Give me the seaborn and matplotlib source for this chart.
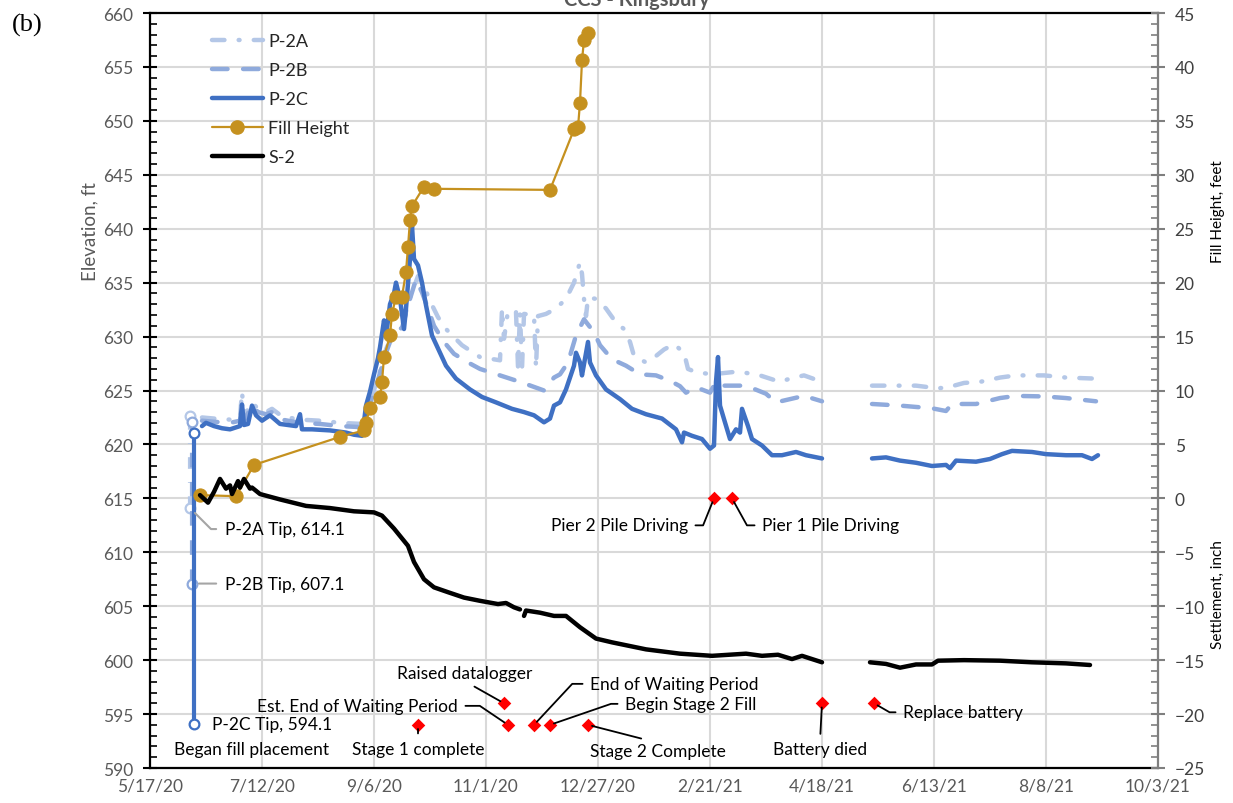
import pandas as pd
import numpy as np
import matplotlib
matplotlib.use("Agg")
import matplotlib.pyplot as plt
import matplotlib.dates as mdates
from matplotlib.lines import Line2D
from matplotlib.ticker import MultipleLocator, FixedLocator, FuncFormatter
import seaborn as sns

# ---------------------------------------------------------------- data
# Piezometer P-2C, elevation (ft); None = logger outage
p2c_dates = [
    "2020-06-12", "2020-06-14", "2020-06-18", "2020-06-22", "2020-06-26",
    "2020-07-01", "2020-07-02", "2020-07-03", "2020-07-05", "2020-07-07", "2020-07-09",
    "2020-07-12", "2020-07-16", "2020-07-21", "2020-07-29", "2020-07-31",
    "2020-08-01", "2020-08-06", "2020-08-15", "2020-08-23", "2020-08-27", "2020-08-31",
    "2020-09-01", "2020-09-02", "2020-09-04", "2020-09-06", "2020-09-08", "2020-09-09",
    "2020-09-11", "2020-09-12", "2020-09-14", "2020-09-16", "2020-09-17", "2020-09-19",
    "2020-09-21", "2020-09-22", "2020-09-24", "2020-09-25", "2020-09-26", "2020-09-28",
    "2020-09-30",
    "2020-10-02", "2020-10-05", "2020-10-09", "2020-10-12", "2020-10-17", "2020-10-24",
    "2020-10-30",
    "2020-11-06", "2020-11-14", "2020-11-20", "2020-11-25", "2020-11-30",
    "2020-12-03", "2020-12-05", "2020-12-08", "2020-12-11", "2020-12-15", "2020-12-16",
    "2020-12-18", "2020-12-19", "2020-12-22", "2020-12-23", "2020-12-26", "2020-12-31",
    "2021-01-07", "2021-01-13", "2021-01-20", "2021-01-28",
    "2021-02-04", "2021-02-07", "2021-02-08", "2021-02-12", "2021-02-17", "2021-02-21",
    "2021-02-23", "2021-02-24", "2021-02-25", "2021-02-26", "2021-02-28",
    "2021-03-03", "2021-03-06", "2021-03-08", "2021-03-09", "2021-03-12", "2021-03-14",
    "2021-03-19", "2021-03-24", "2021-03-29",
    "2021-04-05", "2021-04-10", "2021-04-18",
    "2021-05-01", "2021-05-13", "2021-05-20", "2021-05-27",
    "2021-06-04", "2021-06-12", "2021-06-19", "2021-06-21", "2021-06-24",
    "2021-07-04", "2021-07-11", "2021-07-17", "2021-07-22",
    "2021-08-01", "2021-08-08", "2021-08-18", "2021-08-26", "2021-08-31",
    "2021-09-03",
]
p2c_elev = [
    621.7, 622.0, 621.7, 621.5, 621.4,
    621.7, 623.7, 621.8, 621.9, 623.6, 622.7,
    622.2, 622.7, 621.9, 621.7, 622.8,
    621.4, 621.4, 621.3, 621.1, 620.9, 620.8,
    622.1, 623.6, 624.9, 626.5, 628.0, 629.0,
    631.5, 630.0, 633.0, 634.0, 635.0, 633.5,
    630.7, 632.6, 637.2, 640.3, 637.2, 636.6,
    635.0,
    632.9, 630.1, 628.5, 627.3, 626.1, 625.1,
    624.4,
    623.9, 623.3, 623.0, 622.7, 622.05,
    622.4, 623.6, 623.9, 625.1, 627.3, 628.5,
    627.6, 626.4, 629.5, 627.6, 626.4, 625.1,
    624.2, 623.3, 622.8, 622.4,
    621.4, 620.2, 621.1, 620.8, 620.5, 619.6,
    619.9, 625.8, 628.1, 623.6, 622.35,
    620.5, 621.4, 621.1, 623.3, 621.7, 620.5,
    619.9, 619.0, 619.0,
    619.3, 619.0, 618.7,
    None, 618.7, 618.8, 618.5,
    618.3, 618.0, 618.1, 617.8, 618.5,
    618.4, 618.65, 619.1, 619.4,
    619.3, 619.1, 619.0, 619.0, 618.65,
    619.0,
]

# Piezometer P-2B, elevation (ft)
p2b_dates = [
    "2020-06-12", "2020-06-18", "2020-06-26",
    "2020-07-01", "2020-07-02", "2020-07-03", "2020-07-07", "2020-07-10", "2020-07-14",
    "2020-07-17", "2020-07-22", "2020-07-31",
    "2020-08-10", "2020-08-20", "2020-08-31",
    "2020-09-02", "2020-09-04", "2020-09-08", "2020-09-12", "2020-09-16", "2020-09-20",
    "2020-09-24", "2020-09-27", "2020-09-30",
    "2020-10-03", "2020-10-06", "2020-10-11", "2020-10-16", "2020-10-23", "2020-10-29",
    "2020-11-08", "2020-11-18", "2020-11-30",
    "2020-12-05", "2020-12-08", "2020-12-12", "2020-12-16", "2020-12-20", "2020-12-25",
    "2020-12-28",
    "2021-01-03", "2021-01-10", "2021-01-17", "2021-01-25",
    "2021-02-01", "2021-02-06", "2021-02-09", "2021-02-14", "2021-02-21", "2021-02-24",
    "2021-02-27",
    "2021-03-08", "2021-03-13", "2021-03-21", "2021-03-26",
    "2021-04-02", "2021-04-09", "2021-04-18",
    "2021-05-01", "2021-05-13", "2021-05-27",
    "2021-06-12", "2021-06-19", "2021-06-22",
    "2021-07-04", "2021-07-16", "2021-07-24",
    "2021-08-07", "2021-08-18",
    "2021-09-02",
]
p2b_elev = [
    622.2, 622.1, 622.0,
    622.2, 623.6, 622.2, 623.6, 623.0, 622.8,
    623.0, 622.3, 622.0,
    621.9, 621.7, 621.6,
    622.5, 623.8, 626.0, 628.5, 630.5, 630.8,
    633.5, 635.3, 634.1,
    632.6, 631.0, 629.5, 628.4, 627.6, 627.0,
    626.4, 625.8, 625.0,
    626.2, 626.5, 627.6, 630.1, 631.6, 630.4,
    629.2,
    627.9, 627.3, 626.5, 626.4,
    625.9, 625.4, 624.8, 625.3, 624.8, 625.8,
    625.45,
    625.45, 625.3, 624.7, 623.9,
    624.2, 624.5, 624.0,
    None, 623.75, 623.6,
    623.35, 623.1, 623.75,
    623.75, 624.3, 624.5,
    624.45, 624.3,
    624.0,
]

# Piezometer P-2A, elevation (ft)
p2a_dates = [
    "2020-06-12", "2020-06-18", "2020-06-26",
    "2020-07-01", "2020-07-02", "2020-07-03", "2020-07-07", "2020-07-10", "2020-07-14",
    "2020-07-17", "2020-07-22", "2020-07-31",
    "2020-08-10", "2020-08-20", "2020-08-31",
    "2020-09-02", "2020-09-04", "2020-09-08", "2020-09-12", "2020-09-16", "2020-09-20",
    "2020-09-24", "2020-09-28",
    "2020-10-01", "2020-10-04", "2020-10-08", "2020-10-12", "2020-10-20", "2020-10-29",
    "2020-11-08", "2020-11-09", "2020-11-10", "2020-11-12", "2020-11-16", "2020-11-17",
    "2020-11-18", "2020-11-19", "2020-11-20", "2020-11-25", "2020-11-26", "2020-11-27",
    "2020-12-01", "2020-12-06", "2020-12-11", "2020-12-15", "2020-12-18", "2020-12-19",
    "2020-12-20", "2020-12-21", "2020-12-22", "2020-12-26", "2020-12-31",
    "2021-01-05", "2021-01-09", "2021-01-12", "2021-01-14", "2021-01-20", "2021-01-25",
    "2021-01-29",
    "2021-02-03", "2021-02-08", "2021-02-10", "2021-02-14", "2021-02-22",
    "2021-03-04", "2021-03-09", "2021-03-18", "2021-03-28",
    "2021-04-02", "2021-04-09", "2021-04-18",
    "2021-05-01", "2021-05-13", "2021-05-27",
    "2021-06-04", "2021-06-15", "2021-06-20", "2021-06-28",
    "2021-07-06", "2021-07-16", "2021-07-24",
    "2021-08-07", "2021-08-18",
    "2021-09-02",
]
p2a_elev = [
    622.5, 622.4, 622.3,
    622.5, 624.9, 622.6, 623.9, 623.3, 623.0,
    623.3, 622.6, 622.3,
    622.2, 622.0, 621.9,
    622.7, 623.9, 626.2, 628.8, 630.6, 631.0,
    633.6, 635.6,
    634.7, 633.3, 631.8, 630.7, 629.2, 628.1,
    627.8, 632.6, 629.8, 632.4, 632.3, 627.2,
    632.2, 627.0, 632.1, 632.0, 627.1, 631.9,
    632.1, 632.6, 633.5, 635.0, 636.9, 635.8,
    633.5, 631.9, 633.6, 633.5, 632.6,
    631.3, 630.7, 629.5, 628.2, 627.6, 628.2,
    628.8,
    629.3, 628.5, 627.0, 626.7, 626.5,
    626.7, 626.7, 626.4, 625.8,
    626.1, 626.4, 625.8,
    None, 625.45, 625.45,
    625.45, 625.2, 625.3, 625.7,
    625.8, 626.2, 626.4,
    626.4, 626.2,
    626.1,
]

# Settlement plate S-2 (inch)
s2_dates = [
    "2020-06-11", "2020-06-15", "2020-06-18", "2020-06-21", "2020-06-24", "2020-06-26",
    "2020-06-27", "2020-06-30",
    "2020-07-01", "2020-07-03", "2020-07-06", "2020-07-07", "2020-07-11", "2020-07-21",
    "2020-08-03", "2020-08-15", "2020-08-27",
    "2020-09-06", "2020-09-10", "2020-09-16", "2020-09-23", "2020-09-26",
    "2020-10-01", "2020-10-06", "2020-10-13", "2020-10-21", "2020-10-29",
    "2020-11-07", "2020-11-11", "2020-11-15", "2020-11-18", "2020-11-19", "2020-11-20",
    "2020-11-21", "2020-11-28",
    "2020-12-05", "2020-12-11", "2020-12-18", "2020-12-26",
    "2021-01-03", "2021-01-20",
    "2021-02-06", "2021-02-22",
    "2021-03-11", "2021-03-19", "2021-03-27",
    "2021-04-03", "2021-04-08", "2021-04-13", "2021-04-18",
    "2021-05-01", "2021-05-12", "2021-05-20", "2021-05-27",
    "2021-06-04", "2021-06-12", "2021-06-15", "2021-06-28",
    "2021-07-16",
    "2021-08-01", "2021-08-18", "2021-08-30",
]
s2_settle = [
    0.3, -0.4, 0.6, 1.8, 0.9, 1.2,
    0.4, 1.6,
    1.0, 1.8, 0.9, 1.0, 0.4, -0.1,
    -0.7, -0.9, -1.2,
    -1.3, -1.6, -2.8, -4.4, -5.9,
    -7.5, -8.25, -8.7, -9.2, -9.5,
    -9.8, -9.7, -10.1, -10.3, None, -10.9,
    -10.4, -10.6,
    -10.9, -10.9, -11.95, -13.0,
    -13.35, -14.0,
    -14.4, -14.6,
    -14.4, -14.6, -14.5,
    -14.9, -14.6, -14.9, -15.2,
    None, -15.2, -15.35, -15.7,
    -15.4, -15.4, -15.05, -15.0,
    -15.05,
    -15.2, -15.3, -15.45,
]

# Fill height (ft)
fill_dates = [
    "2020-06-11", "2020-06-29", "2020-07-08", "2020-08-20",
    "2020-09-01", "2020-09-02", "2020-09-04", "2020-09-09", "2020-09-10", "2020-09-11",
    "2020-09-14", "2020-09-15", "2020-09-17", "2020-09-20", "2020-09-22", "2020-09-23",
    "2020-09-24", "2020-09-25", "2020-10-01", "2020-10-06",
    "2020-12-03", "2020-12-15", "2020-12-17", "2020-12-18", "2020-12-19", "2020-12-20",
    "2020-12-22",
]
fill_height = [
    0.3, 0.2, 3.1, 5.7,
    6.3, 7.0, 8.4, 9.4, 10.8, 13.1,
    15.1, 17.1, 18.7, 18.7, 21.0, 23.3,
    25.8, 27.1, 28.9, 28.7,
    28.6, 34.2, 34.4, 36.7, 40.6, 42.5,
    43.1,
]

# Piezometer installation: ground-surface reading and tip elevation (ft)
tip_names = ["P-2A", "P-2B", "P-2C"]
tip_dates = ["2020-06-06", "2020-06-07", "2020-06-08"]
tip_top_elev = [622.6, 622.1, 621.1]
tip_elev = [614.1, 607.1, 594.1]

# Site events
event_labels = [
    "Stage 1 complete", "Raised datalogger", "Est. End of Waiting Period",
    "End of Waiting Period", "Begin Stage 2 Fill", "Stage 2 Complete",
    "Pier 2 Pile Driving", "Pier 1 Pile Driving", "Battery died", "Replace battery",
]
event_dates = [
    "2020-09-28", "2020-11-10", "2020-11-12", "2020-11-25", "2020-12-03",
    "2020-12-22", "2021-02-23", "2021-03-04", "2021-04-18", "2021-05-14",
]
event_elev = [594, 596, 594, 594, 594, 594, 615, 615, 596, 596]

# ---------------------------------------------------------------- style
sns.set_theme(style="white")
plt.rcParams["font.family"] = ["Lato", "DejaVu Sans"]

C_A, C_B, C_C = "#B4C7E7", "#8FAADC", "#3F70C3"
C_FILL, C_EVT = "#C5911F", "#FF0000"
GRID, TXT_GRAY = "#D9D9D9", "#595959"
DASH_A = (0, (2.8, 3.2, 0.2, 3.2))
DASH_B = (0, (3.5, 3.5))
FS = 12.5

W, H = 1233, 804
fig = plt.figure(figsize=(W / 100, H / 100), dpi=100)
ax = fig.add_axes([150 / W, 35 / H, 1008 / W, 755 / H])
ax2 = ax.twinx()


def frame(dates, values):
    df = pd.DataFrame({"date": pd.to_datetime(dates),
                       "value": pd.Series(values, dtype=float)})
    df["segment"] = df["value"].isna().cumsum()
    return df.dropna(subset=["value"])


def draw(axis, df, **kw):
    sns.lineplot(data=df, x="date", y="value", units="segment", estimator=None,
                 ax=axis, legend=False, **kw)


# piezometers (left axis)
draw(ax, frame(p2a_dates, p2a_elev), color=C_A, lw=3.2, linestyle=DASH_A,
     dash_capstyle="round", zorder=3)
draw(ax, frame(p2b_dates, p2b_elev), color=C_B, lw=3.2, linestyle=DASH_B,
     dash_capstyle="round", zorder=3)
draw(ax, frame(p2c_dates, p2c_elev), color=C_C, lw=3.2, solid_joinstyle="round",
     zorder=4)

# installation lines from ground reading down to the tip
tip_styles = {"P-2A": (C_A, DASH_A), "P-2B": (C_B, DASH_B), "P-2C": (C_C, "-")}
for name, d, top, tip in zip(tip_names, tip_dates, tip_top_elev, tip_elev):
    col, ls = tip_styles[name]
    tdf = pd.DataFrame({"date": pd.to_datetime([d, d]), "value": [top, tip],
                        "segment": [0, 0]})
    draw(ax, tdf, color=col, lw=3, linestyle=ls, marker="o", markersize=7,
         markerfacecolor="white", markeredgecolor=col, markeredgewidth=1.6,
         zorder=4)

# event markers
sns.scatterplot(x=pd.to_datetime(event_dates), y=event_elev, marker="D", s=48,
                color=C_EVT, edgecolor=C_EVT, linewidth=0, ax=ax, zorder=6,
                legend=False)

# fill height and settlement (right axis)
draw(ax2, frame(fill_dates, fill_height), color=C_FILL, lw=1.6, marker="o",
     markersize=9.5, markerfacecolor=C_FILL, markeredgecolor=C_FILL, zorder=5)
draw(ax2, frame(s2_dates, s2_settle), color="black", lw=3.2,
     solid_joinstyle="round", zorder=5)

# ---------------------------------------------------------------- axes
start, end = pd.Timestamp("2020-05-17"), pd.Timestamp("2021-10-03")
ax.set_xlim(start, end)
ax.xaxis.set_major_locator(FixedLocator(mdates.date2num(pd.date_range(start, end, freq="56D"))))
ax.xaxis.set_minor_locator(FixedLocator(mdates.date2num(pd.date_range(start, end, freq="7D"))))


def date_label(v, _pos):
    d = mdates.num2date(v)
    return f"{d.month}/{d.day}/{d.year % 100}"


ax.xaxis.set_major_formatter(FuncFormatter(date_label))

ax.set_ylim(590, 660)
ax.yaxis.set_major_locator(MultipleLocator(5))
ax.yaxis.set_minor_locator(MultipleLocator(1))
ax2.set_ylim(-25, 45)
ax2.yaxis.set_major_locator(MultipleLocator(5))
ax2.yaxis.set_minor_locator(MultipleLocator(1))

ax.set_xlabel("")
ax.set_ylabel("")
ax2.set_ylabel("")
ax.grid(True, which="major", axis="both", color=GRID, lw=1.5)
ax.set_axisbelow(True)

for side in ("left", "bottom", "top"):
    ax.spines[side].set_color("black")
    ax.spines[side].set_linewidth(1.6)
ax.spines["right"].set_visible(False)
for side in ("left", "bottom", "top"):
    ax2.spines[side].set_visible(False)
ax2.spines["right"].set_color("#7F7F7F")
ax2.spines["right"].set_linewidth(1.6)

ax.tick_params(axis="both", which="major", direction="inout", length=10, width=1.5,
               color="black", labelsize=FS, labelcolor=TXT_GRAY)
ax.tick_params(axis="both", which="minor", direction="in", length=5, width=1.2,
               color="black")
ax.tick_params(axis="x", which="major", pad=1.5)
ax.tick_params(axis="y", which="major", pad=7)
ax.tick_params(top=False, right=False, which="both")
ax2.tick_params(axis="y", which="major", direction="inout", length=10, width=1.5,
                color="#7F7F7F", labelsize=FS, labelcolor="#404040", pad=7)
ax2.tick_params(axis="y", which="minor", direction="in", length=5, width=1.2,
                color="#7F7F7F")

# ---------------------------------------------------------------- labels
fig.text(90 / W, 1 - 232 / H, "Elevation, ft", rotation=90, ha="center",
         va="center", fontsize=13.5, color=TXT_GRAY)
fig.text(1218 / W, 1 - 212 / H, "Fill Height, feet", rotation=90, ha="center",
         va="center", fontsize=11, color="black")
fig.text(1218 / W, 1 - 595 / H, "Settlement, inch", rotation=90, ha="center",
         va="center", fontsize=11, color="black")
fig.text(637 / W, 1 - 6 / H, "CCS - Kingsbury", ha="center", va="baseline",
         fontsize=14.5, fontweight="bold", color=TXT_GRAY)
fig.text(12 / W, 1 - 25 / H, "(b)", ha="left", va="center", fontsize=19,
         family=["Liberation Serif", "DejaVu Serif"], color="black")

ax.text(0.1002, 0.0252, "Began fill placement", transform=ax.transAxes,
        ha="center", va="center", fontsize=FS, color="black")

# leader layout for each event label: offset (px), alignment, connector
event_layout = {
    "Stage 1 complete": ((0, -24), "center", (0.5, 1), "arc3"),
    "Raised datalogger": ((-39, 30), "center", (0.5, 0), "arc3"),
    "Est. End of Waiting Period": ((-50, 19), "right", (1, 0.5), "angle,angleA=0,angleB=146,rad=0"),
    "End of Waiting Period": ((56, 41), "left", (0, 0.5), "angle,angleA=0,angleB=47,rad=0"),
    "Begin Stage 2 Fill": ((75, 21), "left", (0, 0.5), "angle,angleA=0,angleB=19,rad=0"),
    "Stage 2 Complete": ((70, -26), "center", (0.5, 1), "arc3"),
    "Pier 2 Pile Driving": ((-26, -27), "right", (1, 0.5), "angle,angleA=0,angleB=68,rad=0"),
    "Pier 1 Pile Driving": ((30, -27), "left", (0, 0.5), "angle,angleA=0,angleB=-61,rad=0"),
    "Battery died": ((-2, -46), "center", (0.5, 1), "arc3"),
    "Replace battery": ((29, -9), "left", (0, 0.5), "angle,angleA=0,angleB=-30,rad=0"),
}
for lab, d, e in zip(event_labels, event_dates, event_elev):
    off, ha, rel, conn = event_layout[lab]
    ax.annotate(lab, xy=(mdates.date2num(pd.Timestamp(d)), e), xytext=off,
                textcoords="offset pixels", ha=ha, va="center", fontsize=FS,
                color="black", zorder=7,
                arrowprops=dict(arrowstyle="-", color="black", lw=1.3,
                                connectionstyle=conn, relpos=rel,
                                shrinkA=3, shrinkB=3))

# tip labels
tip_layout = {
    "P-2A": ((35, -21), "angle,angleA=0,angleB=-45,rad=0"),
    "P-2B": ((33, 0), "arc3"),
    "P-2C": ((18, 0), None),
}
for name, d, tip in zip(tip_names, tip_dates, tip_elev):
    off, conn = tip_layout[name]
    arrow = None
    if conn is not None:
        arrow = dict(arrowstyle="-", color="#A5A5A5", lw=1.5, connectionstyle=conn,
                     relpos=(0, 0.5), shrinkA=4, shrinkB=5)
    ax.annotate(f"{name} Tip, {tip}", xy=(mdates.date2num(pd.Timestamp(d)), tip),
                xytext=off, textcoords="offset pixels", ha="left", va="center",
                fontsize=FS, color="black", zorder=7, arrowprops=arrow)

# legend
handles = [
    Line2D([], [], color=C_A, lw=3.2, linestyle=DASH_A, dash_capstyle="round"),
    Line2D([], [], color=C_B, lw=3.2, linestyle=DASH_B, dash_capstyle="round"),
    Line2D([], [], color=C_C, lw=3.2),
    Line2D([], [], color=C_FILL, lw=1.6, marker="o", markersize=9.5),
    Line2D([], [], color="black", lw=3.2),
]
ax2.legend(handles, ["P-2A", "P-2B", "P-2C", "Fill Height", "S-2"],
           loc="upper left", bbox_to_anchor=((212 - 150) / 1008, (769 - 34) / 755),
           frameon=False, fontsize=13, handlelength=2.8, handletextpad=0.3,
           labelspacing=0.72, borderpad=0, borderaxespad=0, numpoints=1)

fig.savefig("out.png", dpi=100)
